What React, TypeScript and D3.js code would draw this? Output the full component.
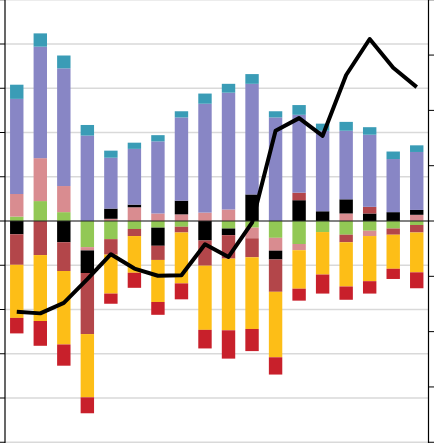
import React from "react";
import * as d3 from "d3";

const categories = ["1","2","3","4","5","6","7","8","9","10","11","12","13","14","15","16","17","18"];
const green   = [1.0, 4.5, 2.0, -5.9, -4.1, -1.8, -1.5, -1.3, 0, -1.7, -1.5, -3.8, -5.2, -2.5, -3.1, -2.2, -1.7, -0.9];
const pink    = [5.1, 9.7, 5.9, -0.75, 0.5, 3.1, 1.7, 1.5, 1.9, 2.6, -2.4, -2.9, -1.4, 0, 1.7, -1.2, 0, 1.4];
const black   = [-3.0, 0, -4.8, -5.1, 2.3, 0.6, -4.1, 3.1, -4.4, -1.5, 6.0, -2.0, 4.7, 2.2, 3.2, 1.7, 2.0, 1.1];
const darkred = [-6.9, -7.7, -6.5, -13.8, -3.5, -1.6, -3.2, -1.3, -5.7, -5.3, -4.3, -7.3, 1.7, 0, -1.7, 1.5, -1.4, -1.7];
const purple  = [21.5, 25.2, 26.6, 19.3, 11.5, 12.6, 16.3, 18.8, 24.6, 26.4, 25.0, 23.4, 17.6, 18.2, 15.5, 16.3, 12.0, 13.1];
const orange  = [-12.0, -14.9, -16.6, -14.3, -8.8, -8.3, -9.5, -11.5, -14.5, -16.2, -16.2, -14.8, -8.7, -9.6, -10.0, -10.2, -7.7, -9.0];
const teal    = [3.2, 3.0, 2.9, 2.4, 1.6, 1.4, 1.4, 1.4, 2.3, 2.0, 2.2, 1.4, 2.2, 1.6, 2.0, 1.7, 1.7, 1.5];
const red     = [-3.5, -5.6, -4.8, -3.6, -2.3, -3.4, -2.9, -3.6, -4.2, -6.4, -5.0, -3.9, -2.7, -4.3, -3.0, -2.8, -2.3, -3.6];
const lineValues = [-1.64, -1.67, -1.48, -1.05, -0.60, -0.86, -0.99, -0.98, -0.42, -0.65, -0.03, 1.63, 1.86, 1.54, 2.64, 3.29, 2.77, 2.42];
const leftTicks = [-50, -40, -30, -20, -10, 0, 10, 20, 30, 40, 50];
const rightTicks = [-4, -3, -2, -1, 0, 1, 2, 3, 4];

const seriesKeys = ["green", "pink", "black", "darkred", "purple", "orange", "teal", "red"];
const seriesData: Record<string, number[]> = { green, pink, black, darkred, purple, orange, teal, red };
const colors: Record<string, string> = {
  green: "#92C855",
  pink: "#D98C90",
  black: "#000000",
  darkred: "#B3464A",
  purple: "#8886C5",
  orange: "#FDBE17",
  teal: "#3A9CB6",
  red: "#C8202B",
};

export default function App() {
  const W = 434, H = 443;
  const x0 = 5, x1 = 428.5;
  const x = d3.scaleBand<string>().domain(categories).range([x0, x1]).paddingInner(0.43).paddingOuter(0.215);
  const yL = d3.scaleLinear().domain([-50, 50]).range([442.25, -0.25]);
  const yR = d3.scaleLinear().domain([-4, 4]).range([442.25, -0.25]);

  const rows = categories.map((c, i) => {
    const r: any = { cat: c };
    seriesKeys.forEach(k => (r[k] = seriesData[k][i]));
    return r;
  });
  const stacked = d3.stack<any>().keys(seriesKeys).offset(d3.stackOffsetDiverging)(rows);

  const line = d3.line<number>()
    .x((_, i) => (x(categories[i]) as number) + x.bandwidth() / 2)
    .y(d => yR(d));

  return (
    <svg width={W} height={H} style={{ position: "absolute", left: 0, top: 0, background: "#fff" }}>
      {leftTicks.map(t => (
        <line key={"g" + t} x1={x0} x2={x1} y1={yL(t)} y2={yL(t)} stroke="#d9d9d9" strokeWidth={1.3} />
      ))}
      {stacked.map(s => (
        <g key={s.key} fill={colors[s.key]}>
          {s.map((d, i) => {
            const yTop = yL(Math.max(d[0], d[1]));
            const yBot = yL(Math.min(d[0], d[1]));
            if (yBot - yTop <= 0) return null;
            return <rect key={i} x={x(categories[i])} width={x.bandwidth()} y={yTop} height={yBot - yTop} />;
          })}
        </g>
      ))}
      <line x1={x0} x2={x1} y1={yL(0)} y2={yL(0)} stroke="#222" strokeWidth={1} />
      <line x1={x0} x2={x0} y1={0} y2={H} stroke="#000" strokeWidth={1.2} />
      {leftTicks.map(t => (
        <line key={"lt" + t} x1={0} x2={x0} y1={yL(t)} y2={yL(t)} stroke="#000" strokeWidth={1} />
      ))}
      <line x1={x1} x2={x1} y1={0} y2={H} stroke="#000" strokeWidth={1.2} />
      {rightTicks.map(t => (
        <line key={"rt" + t} x1={x1} x2={W} y1={yR(t)} y2={yR(t)} stroke="#000" strokeWidth={1} />
      ))}
      <path d={line(lineValues) || ""} fill="none" stroke="#000" strokeWidth={4} strokeLinejoin="round" />
    </svg>
  );
}
